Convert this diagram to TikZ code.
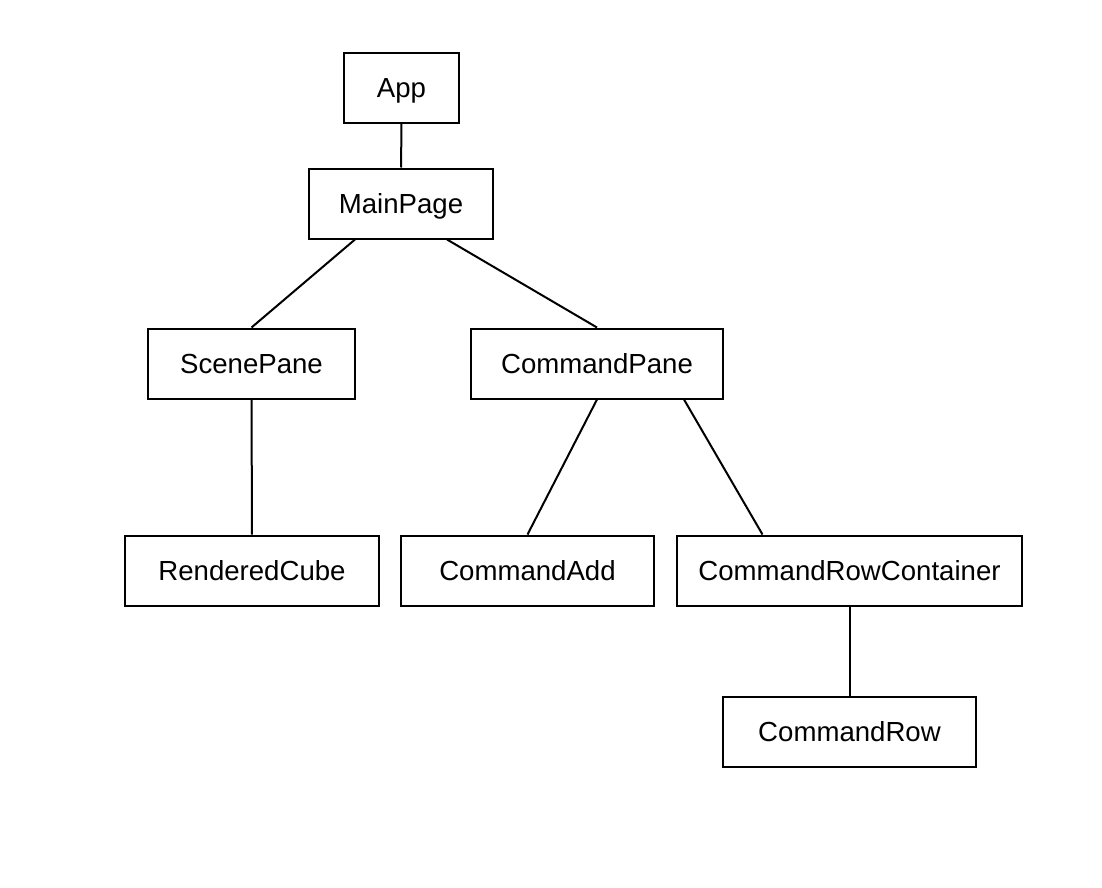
\documentclass[tikz,border=0pt]{standalone}
\usepackage{fontspec}
\setmainfont{Liberation Sans}
\begin{document}
\begin{tikzpicture}[x=1pt,y=-1pt,every node/.style={draw,line width=2pt,shape=rectangle,inner sep=0pt,minimum height=70pt,text height=20pt,text depth=0pt,font=\fontsize{27.6}{33}\selectfont}]

  \useasboundingbox (0,0) rectangle (1102,888);

  % Specification of nodes (position, etc.)
  \node[minimum width=115pt] (app) at (401.5,88) {App};
  \node[minimum width=184pt] (main) at (401,203.5) {MainPage};
  \node[minimum width=207pt] (scene) at (251.5,363.5) {ScenePane};
  \node[minimum width=252pt] (cpane) at (597,363.5) {CommandPane};
  \node[minimum width=254pt] (cube) at (252,570.5) {RenderedCube};
  \node[minimum width=253pt] (cadd) at (527.5,570.5) {CommandAdd};
  \node[minimum width=345pt] (crc) at (849.5,570.5) {CommandRowContainer};
  \node[minimum width=253pt] (crow) at (849.5,731.5) {CommandRow};

  \begin{scope}[-,line width=2pt]
    \draw (app) to (main);
    \draw ([xshift=-46pt]main.south) to (scene.north);
    \draw ([xshift=46pt]main.south) to (cpane.north);
    \draw (scene) to (cube);
    \draw (cpane.south) to (cadd.north);
    \draw ([xshift=87pt]cpane.south) to ([xshift=-87pt]crc.north);
    \draw (crc) to (crow);
  \end{scope}

\end{tikzpicture}
\end{document}
